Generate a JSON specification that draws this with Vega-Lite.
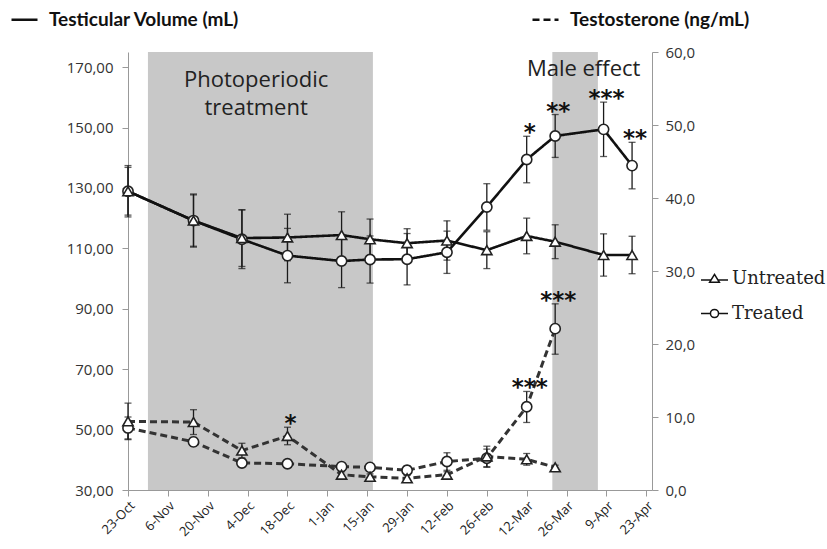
{
  "$schema": "https://vega.github.io/schema/vega-lite/v6.json",
  "width": 524,
  "height": 438,
  "autosize": {"type": "none"},
  "padding": {"left": 128, "top": 52, "right": 175, "bottom": 59},
  "background": "white",
  "config": {
    "view": {"stroke": null},
    "locale": {"number": {"decimal": ",", "thousands": ".", "grouping": [3], "currency": ["", " €"]}},
    "axis": {"grid": false, "labelFont": "Open Sans", "labelColor": "#333", "tickColor": "#999", "domainColor": "#999", "tickSize": 6}
  },
  "datasets": {
    "shade": [
      {"start": "2010-10-30", "end": "2011-01-17"},
      {"start": "2011-03-21", "end": "2011-04-06"}
    ],
    "labels": [
      {"date": "2010-12-07", "value": 165.8, "label": "Photoperiodic"},
      {"date": "2010-12-07", "value": 156.3, "label": "treatment"},
      {"date": "2011-04-01", "value": 169.4, "label": "Male effect"}
    ],
    "volume": [
      {"measure": "Testicular Volume (mL)", "group": "Treated", "date": "2010-10-23", "value": 128.9, "lo": 120.4, "hi": 137.4, "sig": ""},
      {"measure": "Testicular Volume (mL)", "group": "Treated", "date": "2010-11-15", "value": 119.2, "lo": 110.4, "hi": 128.0, "sig": ""},
      {"measure": "Testicular Volume (mL)", "group": "Treated", "date": "2010-12-02", "value": 113.0, "lo": 103.3, "hi": 122.7, "sig": ""},
      {"measure": "Testicular Volume (mL)", "group": "Treated", "date": "2010-12-18", "value": 107.6, "lo": 98.6, "hi": 116.6, "sig": ""},
      {"measure": "Testicular Volume (mL)", "group": "Treated", "date": "2011-01-06", "value": 105.8, "lo": 97.0, "hi": 114.6, "sig": ""},
      {"measure": "Testicular Volume (mL)", "group": "Treated", "date": "2011-01-16", "value": 106.3, "lo": 98.5, "hi": 114.1, "sig": ""},
      {"measure": "Testicular Volume (mL)", "group": "Treated", "date": "2011-01-29", "value": 106.4, "lo": 97.9, "hi": 114.9, "sig": ""},
      {"measure": "Testicular Volume (mL)", "group": "Treated", "date": "2011-02-12", "value": 108.7, "lo": 101.7, "hi": 115.7, "sig": ""},
      {"measure": "Testicular Volume (mL)", "group": "Treated", "date": "2011-02-26", "value": 123.7, "lo": 116.0, "hi": 131.4, "sig": ""},
      {"measure": "Testicular Volume (mL)", "group": "Treated", "date": "2011-03-12", "value": 139.4, "lo": 131.7, "hi": 147.1, "sig": "*"},
      {"measure": "Testicular Volume (mL)", "group": "Treated", "date": "2011-03-22", "value": 147.2, "lo": 140.1, "hi": 154.3, "sig": "**"},
      {"measure": "Testicular Volume (mL)", "group": "Treated", "date": "2011-04-08", "value": 149.4, "lo": 140.4, "hi": 158.4, "sig": "***"},
      {"measure": "Testicular Volume (mL)", "group": "Treated", "date": "2011-04-18", "value": 137.4, "lo": 129.7, "hi": 145.1, "sig": "**"},
      {"measure": "Testicular Volume (mL)", "group": "Untreated", "date": "2010-10-23", "value": 128.9, "lo": 121.0, "hi": 136.8, "sig": ""},
      {"measure": "Testicular Volume (mL)", "group": "Untreated", "date": "2010-11-15", "value": 119.2, "lo": 110.7, "hi": 127.7, "sig": ""},
      {"measure": "Testicular Volume (mL)", "group": "Untreated", "date": "2010-12-02", "value": 113.4, "lo": 104.0, "hi": 122.8, "sig": ""},
      {"measure": "Testicular Volume (mL)", "group": "Untreated", "date": "2010-12-18", "value": 113.6, "lo": 105.9, "hi": 121.3, "sig": ""},
      {"measure": "Testicular Volume (mL)", "group": "Untreated", "date": "2011-01-06", "value": 114.4, "lo": 106.7, "hi": 122.1, "sig": ""},
      {"measure": "Testicular Volume (mL)", "group": "Untreated", "date": "2011-01-16", "value": 113.0, "lo": 106.3, "hi": 119.7, "sig": ""},
      {"measure": "Testicular Volume (mL)", "group": "Untreated", "date": "2011-01-29", "value": 111.7, "lo": 106.9, "hi": 116.5, "sig": ""},
      {"measure": "Testicular Volume (mL)", "group": "Untreated", "date": "2011-02-12", "value": 112.6, "lo": 106.1, "hi": 119.1, "sig": ""},
      {"measure": "Testicular Volume (mL)", "group": "Untreated", "date": "2011-02-26", "value": 109.4, "lo": 103.3, "hi": 115.5, "sig": ""},
      {"measure": "Testicular Volume (mL)", "group": "Untreated", "date": "2011-03-12", "value": 114.1, "lo": 108.2, "hi": 120.0, "sig": ""},
      {"measure": "Testicular Volume (mL)", "group": "Untreated", "date": "2011-03-22", "value": 112.2, "lo": 106.6, "hi": 117.8, "sig": ""},
      {"measure": "Testicular Volume (mL)", "group": "Untreated", "date": "2011-04-08", "value": 107.8, "lo": 100.8, "hi": 114.8, "sig": ""},
      {"measure": "Testicular Volume (mL)", "group": "Untreated", "date": "2011-04-18", "value": 107.8, "lo": 101.6, "hi": 114.0, "sig": ""}
    ],
    "testo": [
      {"measure": "Testosterone (ng/mL)", "group": "Treated", "date": "2010-10-23", "value": 8.5, "lo": 7.0, "hi": 10.0, "sig": ""},
      {"measure": "Testosterone (ng/mL)", "group": "Treated", "date": "2010-11-15", "value": 6.6, "lo": 6.0, "hi": 7.2, "sig": ""},
      {"measure": "Testosterone (ng/mL)", "group": "Treated", "date": "2010-12-02", "value": 3.7, "lo": 3.2, "hi": 4.2, "sig": ""},
      {"measure": "Testosterone (ng/mL)", "group": "Treated", "date": "2010-12-18", "value": 3.6, "lo": 3.2, "hi": 4.0, "sig": ""},
      {"measure": "Testosterone (ng/mL)", "group": "Treated", "date": "2011-01-06", "value": 3.2, "lo": 2.7, "hi": 3.7, "sig": ""},
      {"measure": "Testosterone (ng/mL)", "group": "Treated", "date": "2011-01-16", "value": 3.1, "lo": 2.6, "hi": 3.6, "sig": ""},
      {"measure": "Testosterone (ng/mL)", "group": "Treated", "date": "2011-01-29", "value": 2.7, "lo": 2.1, "hi": 3.3, "sig": ""},
      {"measure": "Testosterone (ng/mL)", "group": "Treated", "date": "2011-02-12", "value": 3.9, "lo": 2.7, "hi": 5.1, "sig": ""},
      {"measure": "Testosterone (ng/mL)", "group": "Treated", "date": "2011-02-26", "value": 4.35, "lo": 3.1, "hi": 5.6, "sig": ""},
      {"measure": "Testosterone (ng/mL)", "group": "Treated", "date": "2011-03-12", "value": 11.4, "lo": 9.25, "hi": 13.5, "sig": "***"},
      {"measure": "Testosterone (ng/mL)", "group": "Treated", "date": "2011-03-22", "value": 22.1, "lo": 18.6, "hi": 25.5, "sig": "***"},
      {"measure": "Testosterone (ng/mL)", "group": "Untreated", "date": "2010-10-23", "value": 9.4, "lo": 6.9, "hi": 11.9, "sig": ""},
      {"measure": "Testosterone (ng/mL)", "group": "Untreated", "date": "2010-11-15", "value": 9.3, "lo": 7.6, "hi": 11.0, "sig": ""},
      {"measure": "Testosterone (ng/mL)", "group": "Untreated", "date": "2010-12-02", "value": 5.4, "lo": 4.4, "hi": 6.4, "sig": ""},
      {"measure": "Testosterone (ng/mL)", "group": "Untreated", "date": "2010-12-18", "value": 7.4, "lo": 6.2, "hi": 8.6, "sig": "*"},
      {"measure": "Testosterone (ng/mL)", "group": "Untreated", "date": "2011-01-06", "value": 2.1, "lo": 1.7, "hi": 2.5, "sig": ""},
      {"measure": "Testosterone (ng/mL)", "group": "Untreated", "date": "2011-01-16", "value": 1.8, "lo": 1.4, "hi": 2.2, "sig": ""},
      {"measure": "Testosterone (ng/mL)", "group": "Untreated", "date": "2011-01-29", "value": 1.6, "lo": 1.2, "hi": 2.0, "sig": ""},
      {"measure": "Testosterone (ng/mL)", "group": "Untreated", "date": "2011-02-12", "value": 2.1, "lo": 1.7, "hi": 2.5, "sig": ""},
      {"measure": "Testosterone (ng/mL)", "group": "Untreated", "date": "2011-02-26", "value": 4.6, "lo": 3.2, "hi": 6.0, "sig": ""},
      {"measure": "Testosterone (ng/mL)", "group": "Untreated", "date": "2011-03-12", "value": 4.2, "lo": 3.4, "hi": 5.0, "sig": ""},
      {"measure": "Testosterone (ng/mL)", "group": "Untreated", "date": "2011-03-22", "value": 3.1, "lo": 2.8, "hi": 3.4, "sig": ""}
    ]
  },
  "layer": [
    {
      "data": {"name": "shade"},
      "mark": {"type": "rect", "color": "#c8c8c8"},
      "encoding": {
        "x": {"field": "start", "type": "temporal",
          "scale": {"type": "utc", "domain": [{"year": 2010, "month": 10, "date": 23, "utc": true}, {"year": 2011, "month": 4, "date": 25, "utc": true}]},
          "axis": {"title": null, "format": "%-d-%b", "labelAngle": -45, "labelFontSize": 13, "labelPadding": 3, "labelColor": "#222", "labelOverlap": false,
            "values": [
              {"year": 2010, "month": 10, "date": 23, "utc": true},
              {"year": 2010, "month": 11, "date": 6, "utc": true},
              {"year": 2010, "month": 11, "date": 20, "utc": true},
              {"year": 2010, "month": 12, "date": 4, "utc": true},
              {"year": 2010, "month": 12, "date": 18, "utc": true},
              {"year": 2011, "month": 1, "date": 1, "utc": true},
              {"year": 2011, "month": 1, "date": 15, "utc": true},
              {"year": 2011, "month": 1, "date": 29, "utc": true},
              {"year": 2011, "month": 2, "date": 12, "utc": true},
              {"year": 2011, "month": 2, "date": 26, "utc": true},
              {"year": 2011, "month": 3, "date": 12, "utc": true},
              {"year": 2011, "month": 3, "date": 26, "utc": true},
              {"year": 2011, "month": 4, "date": 9, "utc": true},
              {"year": 2011, "month": 4, "date": 23, "utc": true}
            ]}},
        "x2": {"field": "end"}
      }
    },
    {
      "encoding": {
        "x": {"field": "date", "type": "temporal", "scale": {"type": "utc", "domain": [{"year": 2010, "month": 10, "date": 23, "utc": true}, {"year": 2011, "month": 4, "date": 25, "utc": true}]}, "axis": {"title": null}}
      },
      "layer": [
        {
          "data": {"name": "labels"},
          "mark": {"type": "text", "font": "Open Sans", "fontSize": 22, "color": "#222", "align": "center", "baseline": "middle"},
          "encoding": {
            "y": {"field": "value", "type": "quantitative", "scale": {"domain": [30, 175], "nice": false, "zero": false},
              "axis": {"orient": "left", "title": null, "values": [30, 50, 70, 90, 110, 130, 150, 170], "format": ".2f", "labelFontSize": 15, "labelPadding": 9}},
            "text": {"field": "label"}
          }
        },
        {
          "data": {"name": "volume"},
          "mark": {"type": "rule", "color": "#1a1a1a", "strokeWidth": 1.3},
          "encoding": {
            "y": {"field": "lo", "type": "quantitative", "scale": {"domain": [30, 175], "nice": false, "zero": false}, "axis": {"orient": "left", "title": null, "values": [30, 50, 70, 90, 110, 130, 150, 170], "format": ".2f", "labelFontSize": 15, "labelPadding": 9}},
            "y2": {"field": "hi"}
          }
        },
        {
          "data": {"name": "volume"},
          "mark": {"type": "tick", "color": "#1a1a1a", "thickness": 1.3, "size": 7, "orient": "horizontal"},
          "encoding": {
            "y": {"field": "lo", "type": "quantitative", "scale": {"domain": [30, 175], "nice": false, "zero": false}, "axis": {"orient": "left", "title": null, "values": [30, 50, 70, 90, 110, 130, 150, 170], "format": ".2f", "labelFontSize": 15, "labelPadding": 9}}
          }
        },
        {
          "data": {"name": "volume"},
          "mark": {"type": "tick", "color": "#1a1a1a", "thickness": 1.3, "size": 7, "orient": "horizontal"},
          "encoding": {
            "y": {"field": "hi", "type": "quantitative", "scale": {"domain": [30, 175], "nice": false, "zero": false}, "axis": {"orient": "left", "title": null, "values": [30, 50, 70, 90, 110, 130, 150, 170], "format": ".2f", "labelFontSize": 15, "labelPadding": 9}}
          }
        },
        {
          "data": {"name": "volume"},
          "mark": {"type": "line", "color": "#111", "strokeWidth": 2.6},
          "encoding": {
            "y": {"field": "value", "type": "quantitative", "scale": {"domain": [30, 175], "nice": false, "zero": false}, "axis": {"orient": "left", "title": null, "values": [30, 50, 70, 90, 110, 130, 150, 170], "format": ".2f", "labelFontSize": 15, "labelPadding": 9}},
            "detail": {"field": "group"},
            "strokeDash": {"field": "measure", "type": "nominal",
              "scale": {"domain": ["Testicular Volume (mL)", "Testosterone (ng/mL)"], "range": [[1, 0], [7, 4]]},
              "legend": {"orient": "none", "legendX": -118, "legendY": -47, "direction": "horizontal", "columns": 2, "columnPadding": 287, "title": null, "padding": 0,
                "symbolType": "stroke", "symbolSize": 676, "symbolStrokeColor": "#111", "symbolStrokeWidth": 2.5, "labelOffset": 10,
                "labelFont": "Lato", "labelFontWeight": "bold", "labelFontSize": 19, "labelColor": "#111", "labelLimit": 400}}
          }
        },
        {
          "data": {"name": "volume"},
          "mark": {"type": "point", "filled": true, "fill": "white", "stroke": "#222", "strokeWidth": 1.6, "size": 105, "opacity": 1},
          "encoding": {
            "y": {"field": "value", "type": "quantitative", "scale": {"domain": [30, 175], "nice": false, "zero": false}, "axis": {"orient": "left", "title": null, "values": [30, 50, 70, 90, 110, 130, 150, 170], "format": ".2f", "labelFontSize": 15, "labelPadding": 9}},
            "shape": {"field": "group", "type": "nominal",
              "scale": {"domain": ["Untreated", "Treated"], "range": ["triangle-up", "circle"]},
              "legend": null}
          }
        },
        {
          "data": {"name": "volume"},
          "mark": {"type": "text", "font": "DejaVu Sans", "fontSize": 23, "fontWeight": "bold", "color": "#111", "align": "center", "baseline": "alphabetic", "dy": 4, "dx": 3},
          "encoding": {
            "y": {"field": "hi", "type": "quantitative", "scale": {"domain": [30, 175], "nice": false, "zero": false}, "axis": {"orient": "left", "title": null, "values": [30, 50, 70, 90, 110, 130, 150, 170], "format": ".2f", "labelFontSize": 15, "labelPadding": 9}},
            "text": {"field": "sig"}
          }
        },
        {
          "data": {"name": "volume"},
          "mark": {"type": "point", "filled": true, "fill": "white", "stroke": "#111", "opacity": 0, "size": 1},
          "encoding": {
            "y": {"field": "value", "type": "quantitative", "scale": {"domain": [30, 175], "nice": false, "zero": false}, "axis": {"orient": "left", "title": null, "values": [30, 50, 70, 90, 110, 130, 150, 170], "format": ".2f", "labelFontSize": 15, "labelPadding": 9}},
            "shape": {"field": "group", "type": "nominal",
              "scale": {"domain": ["Untreated", "Treated"],
                "range": ["M-1,0.12H-0.26M0.26,0.12H1M0,-0.3L0.36,0.28L-0.36,0.28Z", "M-1,0H-0.3M0.3,0H1M-0.3,0A0.3,0.3,0,1,0,0.3,0A0.3,0.3,0,1,0,-0.3,0Z"]},
              "legend": {"orient": "none", "legendX": 572, "legendY": 212, "title": null, "padding": 0, "symbolSize": 729, "rowPadding": 11, "labelOffset": 3,
                "symbolOpacity": 1, "labelFont": "DejaVu Serif", "labelFontSize": 18, "labelColor": "#222",
                "encode": {"symbols": {
                  "fill": {"value": "#ffffff"},
                  "stroke": {"value": "#111111"},
                  "opacity": {"value": 1},
                  "fillOpacity": {"value": 1},
                  "strokeOpacity": {"value": 1},
                  "size": {"value": 729},
                  "strokeWidth": {"value": 2}
                }}}}
          }
        }
      ],
      "resolve": {"scale": {"shape": "independent"}}
    },
    {
      "data": {"name": "testo"},
      "encoding": {
        "x": {"field": "date", "type": "temporal", "scale": {"type": "utc", "domain": [{"year": 2010, "month": 10, "date": 23, "utc": true}, {"year": 2011, "month": 4, "date": 25, "utc": true}]}, "axis": {"title": null}}
      },
      "layer": [
        {
          "mark": {"type": "rule", "color": "#1a1a1a", "strokeWidth": 1.3},
          "encoding": {
            "y": {"field": "lo", "type": "quantitative", "scale": {"domain": [0, 60], "nice": false}, "axis": {"orient": "right", "title": null, "values": [0, 10, 20, 30, 40, 50, 60], "format": ".1f", "labelFontSize": 15, "labelPadding": 7}},
            "y2": {"field": "hi"}
          }
        },
        {
          "mark": {"type": "tick", "color": "#1a1a1a", "thickness": 1.3, "size": 7, "orient": "horizontal"},
          "encoding": {
            "y": {"field": "lo", "type": "quantitative", "scale": {"domain": [0, 60], "nice": false}, "axis": {"orient": "right", "title": null, "values": [0, 10, 20, 30, 40, 50, 60], "format": ".1f", "labelFontSize": 15, "labelPadding": 7}}
          }
        },
        {
          "mark": {"type": "tick", "color": "#1a1a1a", "thickness": 1.3, "size": 7, "orient": "horizontal"},
          "encoding": {
            "y": {"field": "hi", "type": "quantitative", "scale": {"domain": [0, 60], "nice": false}, "axis": {"orient": "right", "title": null, "values": [0, 10, 20, 30, 40, 50, 60], "format": ".1f", "labelFontSize": 15, "labelPadding": 7}}
          }
        },
        {
          "mark": {"type": "line", "color": "#333", "strokeWidth": 3},
          "encoding": {
            "y": {"field": "value", "type": "quantitative", "scale": {"domain": [0, 60], "nice": false}, "axis": {"orient": "right", "title": null, "values": [0, 10, 20, 30, 40, 50, 60], "format": ".1f", "labelFontSize": 15, "labelPadding": 7}},
            "detail": {"field": "group"},
            "strokeDash": {"field": "measure", "type": "nominal",
              "scale": {"domain": ["Testicular Volume (mL)", "Testosterone (ng/mL)"], "range": [[1, 0], [7, 4]]},
              "legend": {"orient": "none", "legendX": -118, "legendY": -47, "direction": "horizontal", "columns": 2, "columnPadding": 287, "title": null, "padding": 0,
                "symbolType": "stroke", "symbolSize": 676, "symbolStrokeColor": "#111", "symbolStrokeWidth": 2.5, "labelOffset": 10,
                "labelFont": "Lato", "labelFontWeight": "bold", "labelFontSize": 19, "labelColor": "#111", "labelLimit": 400}}
          }
        },
        {
          "mark": {"type": "point", "filled": true, "fill": "white", "stroke": "#222", "strokeWidth": 1.6, "size": 105, "opacity": 1},
          "encoding": {
            "y": {"field": "value", "type": "quantitative", "scale": {"domain": [0, 60], "nice": false}, "axis": {"orient": "right", "title": null, "values": [0, 10, 20, 30, 40, 50, 60], "format": ".1f", "labelFontSize": 15, "labelPadding": 7}},
            "shape": {"field": "group", "type": "nominal",
              "scale": {"domain": ["Untreated", "Treated"], "range": ["triangle-up", "circle"]},
              "legend": null}
          }
        },
        {
          "mark": {"type": "text", "font": "DejaVu Sans", "fontSize": 23, "fontWeight": "bold", "color": "#111", "align": "center", "baseline": "alphabetic", "dy": 4, "dx": 3},
          "encoding": {
            "y": {"field": "hi", "type": "quantitative", "scale": {"domain": [0, 60], "nice": false}, "axis": {"orient": "right", "title": null, "values": [0, 10, 20, 30, 40, 50, 60], "format": ".1f", "labelFontSize": 15, "labelPadding": 7}},
            "text": {"field": "sig"}
          }
        }
      ]
    }
  ],
  "resolve": {"scale": {"y": "independent", "shape": "independent"}, "axis": {"y": "independent"}}
}
